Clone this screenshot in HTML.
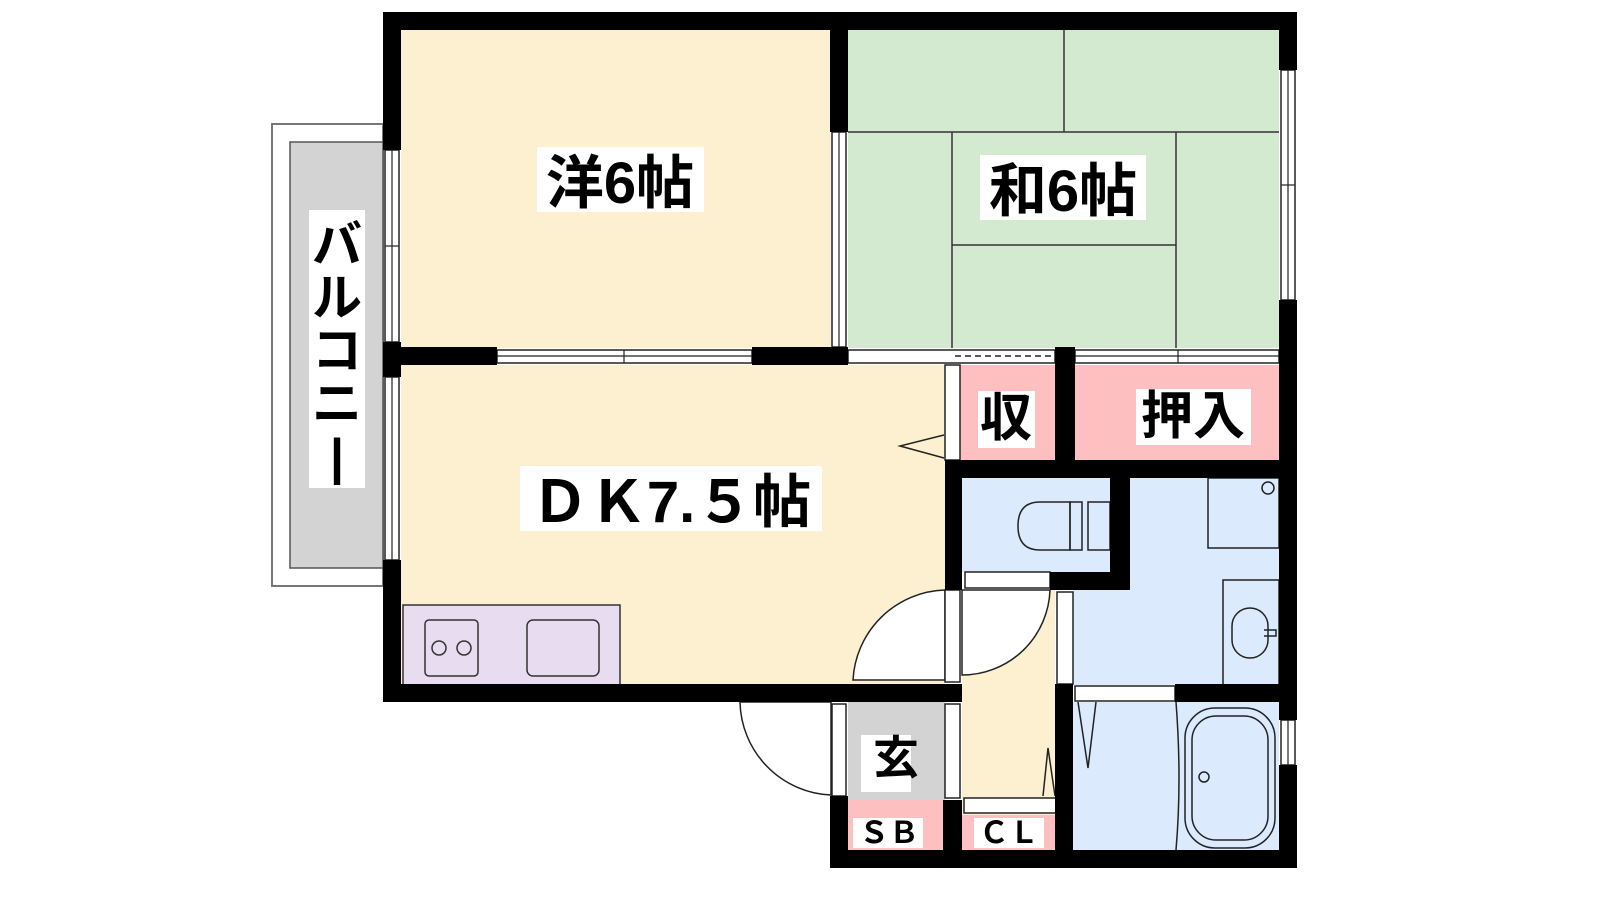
<!DOCTYPE html>
<html><head><meta charset="utf-8"><style>
html,body{margin:0;padding:0;background:#fff;width:1600px;height:900px;overflow:hidden}
text{font-family:"Liberation Sans","Noto Sans CJK JP",sans-serif;fill:#000;font-weight:bold}
</style></head><body>
<svg width="1600" height="900" viewBox="0 0 1600 900" xmlns="http://www.w3.org/2000/svg">
<rect x="272" y="124" width="111" height="462" fill="#fff" stroke="#777" stroke-width="2"/>
<rect x="290" y="142" width="93" height="426" fill="#d3d3d3" stroke="#555" stroke-width="1.5"/>
<rect x="401" y="30" width="430" height="318" fill="#fdf0d0"/>
<rect x="848" y="30" width="431" height="318" fill="#d4ead0"/>
<g stroke="#333" stroke-width="1.5" fill="none">
<line x1="1064" y1="30" x2="1064" y2="132"/>
<line x1="848" y1="132" x2="1279" y2="132"/>
<line x1="952" y1="132" x2="952" y2="348"/>
<line x1="1176" y1="132" x2="1176" y2="348"/>
<line x1="952" y1="245" x2="1176" y2="245"/>
</g>
<rect x="401" y="365" width="544" height="320" fill="#fdf0d0"/>
<rect x="403" y="605" width="217" height="80" fill="#e8dcf0" stroke="#333" stroke-width="1.5"/>
<rect x="425" y="620" width="53" height="56" rx="4" fill="none" stroke="#333" stroke-width="1.5"/>
<circle cx="439" cy="648" r="7" fill="none" stroke="#333" stroke-width="1.5"/>
<circle cx="464" cy="648" r="7" fill="none" stroke="#333" stroke-width="1.5"/>
<rect x="527" y="620" width="72" height="56" rx="6" fill="none" stroke="#333" stroke-width="1.5"/>
<rect x="960" y="365" width="95" height="95" fill="#fdbfbf"/>
<rect x="1075" y="365" width="204" height="95" fill="#fdbfbf"/>
<rect x="962" y="478" width="148" height="94" fill="#dbeafd"/>
<rect x="1073" y="478" width="206" height="207" fill="#dbeafd"/>
<rect x="1073" y="702" width="206" height="148" fill="#dbeafd"/>
<rect x="962" y="590" width="93" height="260" fill="#fdf0d0"/>
<rect x="848" y="702" width="97" height="98" fill="#d3d3d3"/>
<rect x="848" y="800" width="95" height="50" fill="#fdbfbf"/>
<rect x="962" y="815" width="93" height="35" fill="#fdbfbf"/>
<g fill="none" stroke="#222" stroke-width="1.5">
<path d="M1070 502 H1040 Q1018 502 1018 526 Q1018 550 1040 550 H1070 Z" fill="#dbeafd"/>
<rect x="1070" y="502" width="12" height="48"/>
<rect x="1088" y="502" width="22" height="48"/>
<rect x="1208" y="478" width="71" height="70"/>
<circle cx="1268" cy="488" r="6"/>
<rect x="1223" y="580" width="56" height="105"/>
<rect x="1232" y="608" width="36" height="50" rx="18"/>
<path d="M1264 630 H1276 V636 H1264"/>
<rect x="1185" y="708" width="90" height="140" rx="30"/>
<rect x="1192" y="716" width="76" height="124" rx="24"/>
<circle cx="1204" cy="777" r="5"/>
<path d="M1176 702 Q1182 780 1176 850"/>
<path d="M1078 702 L1088 768 L1096 702"/>
<path d="M1043 796 L1048 748 L1055 796"/>
<path d="M944 435 L900 446 L944 458"/>
<path d="M853 680 A95 95 0 0 1 945 590 V680 Z" fill="#fff"/>
<path d="M962 590 H1050 A88 88 0 0 1 962 675 Z" fill="#fff"/>
<path d="M740 702 A95 95 0 0 0 831 795 V702 Z" fill="#fff"/>
</g>
<g fill="#fff" stroke="#222" stroke-width="1.5">
<rect x="385" y="150" width="14" height="192"/>
<rect x="385" y="377" width="14" height="183"/>
<rect x="832" y="132" width="14" height="215"/>
<rect x="497" y="350" width="255" height="13"/>
<rect x="848" y="350" width="207" height="13"/>
<rect x="1075" y="350" width="204" height="13"/>
<rect x="1281" y="70" width="14" height="230"/>
<rect x="1281" y="720" width="14" height="45"/>
<rect x="945" y="365" width="15" height="95"/>
<rect x="945" y="590" width="15" height="92"/>
<rect x="965" y="572" width="85" height="16"/>
<rect x="1057" y="592" width="16" height="92"/>
<rect x="1075" y="686" width="100" height="15"/>
<rect x="832" y="704" width="14" height="92"/>
<rect x="945" y="704" width="15" height="94"/>
<rect x="964" y="798" width="93" height="15"/>
</g>
<g stroke="#222" stroke-width="1.2">
<line x1="385" y1="246" x2="399" y2="246"/><line x1="392" y1="150" x2="392" y2="342"/>
<line x1="392" y1="377" x2="392" y2="560"/>
<line x1="839" y1="132" x2="839" y2="347"/>
<line x1="497" y1="356" x2="752" y2="356"/><line x1="624" y1="350" x2="624" y2="363"/>
<line x1="1075" y1="356" x2="1279" y2="356"/><line x1="1178" y1="350" x2="1178" y2="363"/>
<line x1="1288" y1="70" x2="1288" y2="300"/><line x1="1281" y1="185" x2="1295" y2="185"/>
<line x1="1288" y1="720" x2="1288" y2="765"/>
</g>
<line x1="955" y1="356" x2="1055" y2="356" stroke="#222" stroke-width="1.5" stroke-dasharray="6,4"/>
<g fill="#000">
<rect x="383" y="12" width="914" height="18"/>
<rect x="383" y="12" width="18" height="138"/>
<rect x="383" y="342" width="18" height="35"/>
<rect x="383" y="560" width="18" height="142"/>
<rect x="1279" y="12" width="18" height="58"/>
<rect x="1279" y="300" width="18" height="420"/>
<rect x="1279" y="765" width="18" height="103"/>
<rect x="830" y="12" width="18" height="120"/>
<rect x="383" y="347" width="114" height="18"/>
<rect x="752" y="347" width="96" height="18"/>
<rect x="1055" y="347" width="20" height="113"/>
<rect x="945" y="460" width="352" height="18"/>
<rect x="945" y="460" width="17" height="130"/>
<rect x="1110" y="460" width="20" height="130"/>
<rect x="1050" y="572" width="80" height="18"/>
<rect x="383" y="684" width="579" height="18"/>
<rect x="1175" y="684" width="122" height="18"/>
<rect x="1055" y="684" width="18" height="184"/>
<rect x="830" y="796" width="18" height="72"/>
<rect x="943" y="800" width="19" height="68"/>
<rect x="830" y="850" width="467" height="18"/>
</g>
<rect x="537" y="147" width="167" height="65" fill="#fff"/>
<text x="620" y="203" font-size="58" text-anchor="middle">洋6帖</text>
<rect x="980" y="155" width="166" height="65" fill="#fff"/>
<text x="1063" y="211" font-size="58" text-anchor="middle">和6帖</text>
<rect x="520" y="466" width="302" height="65" fill="#fff"/>
<text x="671" y="522" font-size="58" text-anchor="middle">ＤＫ7.５帖</text>
<rect x="309" y="210" width="56" height="278" fill="#fff"/>
<text x="337" y="262" font-size="50" text-anchor="middle">バ</text>
<text x="337" y="315" font-size="50" text-anchor="middle">ル</text>
<text x="337" y="368" font-size="50" text-anchor="middle">コ</text>
<text x="337" y="421" font-size="50" text-anchor="middle">ニ</text>
<text x="337" y="474" font-size="50" text-anchor="middle">|</text>
<rect x="978" y="391" width="57" height="57" fill="#fff"/>
<text x="1006" y="436" font-size="52" text-anchor="middle">収</text>
<rect x="1136" y="389" width="115" height="56" fill="#fff"/>
<text x="1193" y="434" font-size="52" text-anchor="middle">押入</text>
<rect x="861" y="735" width="50" height="57" fill="#fff"/>
<text x="896" y="774" font-size="46" text-anchor="middle">玄</text>
<rect x="853" y="818" width="70" height="30" fill="#fff"/>
<text x="889" y="843" font-size="30" text-anchor="middle">ＳＢ</text>
<rect x="974" y="818" width="70" height="30" fill="#fff"/>
<text x="1009" y="843" font-size="30" text-anchor="middle">ＣＬ</text>
</svg>
</body></html>
